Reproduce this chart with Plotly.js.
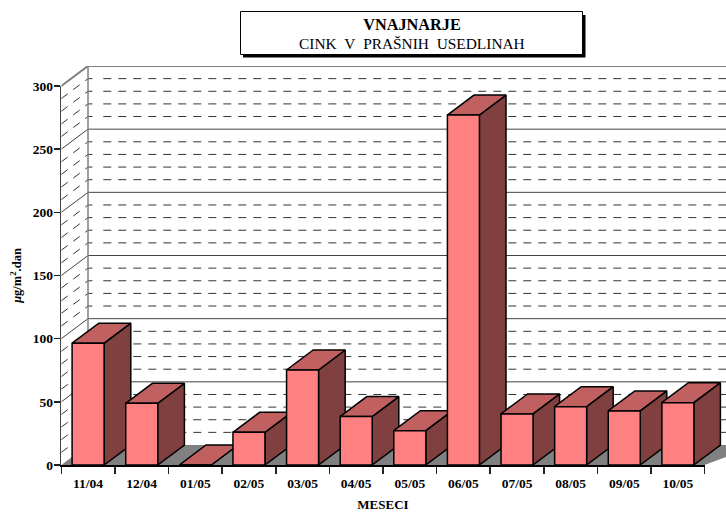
<!DOCTYPE html>
<html><head><meta charset="utf-8">
<script src="https://cdn.plot.ly/plotly-3.0.1.min.js"></script>
<style>html,body{margin:0;padding:0;background:#fff}</style></head>
<body><div id="chart" style="width:726px;height:512px"></div>
<script>
const categories = ['11/04','12/04','01/05','02/05','03/05','04/05','05/05','06/05','07/05','08/05','09/05','10/05'];
const values = [96.4,48.8,0,25.9,75.2,38.3,27.2,277,40.4,46.2,42.8,49.3];
const yTicks = [0,50,100,150,200,250,300];
const minorGrid = [];
for (let v = 10; v < 300; v += 10) if (v % 50) minorGrid.push(v);
const majorGrid = [50,100,150,200,250];

const W = 726, H = 512;
const pxX = 53.6, pxY = 379/300;
const depthX = 26.7/pxX, depthY = 20/pxY;
const barW = 32/pxX;
const xEnd = 12.5, left = -0.5;
const font = 'Liberation Serif, Times New Roman, serif';
const traces = [];
const base = {type:'scatter', mode:'lines', hoverinfo:'skip', showlegend:false, xaxis:'x', yaxis:'y'};

// floor
traces.push({...base, x:[left,left+depthX,xEnd,11.5,left], y:[0,depthY,depthY,0,0], fill:'toself', fillcolor:'#808080', line:{width:0}});

function wallLines(list, dashed) {
  const x = [], y = [];
  list.forEach(v => {
    const yb = v + depthY, xb = left + depthX;
    if (dashed) {
      x.push(left, xb, xb + 4.4/pxX, null, xb + 15.3/pxX, xEnd, null);
      y.push(v, yb, yb, null, yb, yb, null);
    } else {
      x.push(left, xb, xEnd, null);
      y.push(v, yb, yb, null);
    }
  });
  return {x, y};
}
traces.push({...base, ...wallLines(minorGrid, true), line:{color:'#333', width:1, dash:'8px,7px'}});
traces.push({...base, ...wallLines(majorGrid, false), line:{color:'#444', width:1}});
traces.push({...base, ...wallLines([300], false), line:{color:'#808080', width:2}});
traces.push({...base, x:[left+depthX,left+depthX], y:[depthY,300+depthY], line:{color:'#808080', width:1.5}});

// sides and tops, left to right
values.forEach((v,i) => {
  const a = i - barW/2, b = i + barW/2;
  traces.push({...base, x:[b,b+depthX,b+depthX,b,b], y:[0,depthY,v+depthY,v,0], fill:'toself', fillcolor:'#804040', line:{color:'#000',width:1.5}});
  traces.push({...base, x:[a,a+depthX,b+depthX,b,a], y:[v,v+depthY,v+depthY,v,v], fill:'toself', fillcolor:'#C06060', line:{color:'#000',width:1.5}});
});

// front faces
traces.push({type:'bar', x:categories, y:values, width:barW, xaxis:'x2', yaxis:'y2', showlegend:false, hoverinfo:'skip',
  marker:{color:'#FF8080', line:{color:'#000', width:1.5}}});

const tickFont = {family:font, size:13.5, color:'#000', weight:'bold'};
const layout = {
  width:W, height:H, margin:{l:0,r:0,t:0,b:0,pad:0}, autosize:false,
  paper_bgcolor:'#fff', plot_bgcolor:'rgba(0,0,0,0)', showlegend:false, bargap:0,
  title:{text:'<b>VNAJNARJE</b>',
    font:{family:font,size:16.3,color:'#000'}, x:412/W, xref:'container', xanchor:'center', y:1-19/H, yref:'container', yanchor:'top', automargin:false},
  annotations:[{text:'CINK\u00A0\u00A0V\u00A0\u00A0PRAŠNIH\u00A0\u00A0USEDLINAH', xref:'paper', yref:'paper', x:412/W, y:1-43/H, xanchor:'center', yanchor:'middle',
    showarrow:false, font:{family:font,size:15.4,color:'#000'}}],
  xaxis:{type:'linear', visible:false, domain:[61.3/W,1], range:[left,(W-61.3)/pxX+left], fixedrange:true},
  yaxis:{type:'linear', visible:false, domain:[(H-465)/H,(H-66)/H], range:[0,300+depthY], fixedrange:true},
  xaxis2:{type:'category', anchor:'y2', domain:[61.3/W,704.7/W], range:[-0.5,11.5], categoryorder:'array', categoryarray:categories,
    tickson:'boundaries', ticks:'outside', ticklen:7, tickwidth:1.5, tickcolor:'#222', showline:true, linecolor:'#000', linewidth:1.5, showgrid:false,
    zeroline:false, tickfont:tickFont, tickangle:0, ticklabelstandoff:5, title:{text:'<b>MESECI</b>', font:{family:font,size:13,color:'#000'}, standoff:10}},
  yaxis2:{type:'linear', anchor:'x2', domain:[(H-465)/H,(H-86)/H], range:[0,300], tickvals:yTicks, ticktext:yTicks.map(String),
    ticks:'outside', ticklen:6, tickwidth:1.5, tickcolor:'#222', showline:true, linecolor:'#444', linewidth:1.5, showgrid:false, zeroline:false, ticklabelstandoff:-2,
    tickfont:tickFont, title:{text:'<b><i>μ</i>g/m<sup>2</sup>.dan</b>', font:{family:font,size:12.5,color:'#000'}, standoff:8}},
  shapes:[
    {type:'rect', xref:'paper', yref:'paper', x0:243/W, x1:585.5/W, y0:1-57.5/H, y1:1-15/H, fillcolor:'#000', line:{width:0}},
    {type:'rect', xref:'paper', yref:'paper', x0:240.5/W, x1:582.5/W, y0:1-54.5/H, y1:1-11.5/H, fillcolor:'#fff', line:{color:'#000',width:1}}
  ]
};
Plotly.newPlot('chart', traces, layout, {displayModeBar:false, staticPlot:true});
</script></body></html>
